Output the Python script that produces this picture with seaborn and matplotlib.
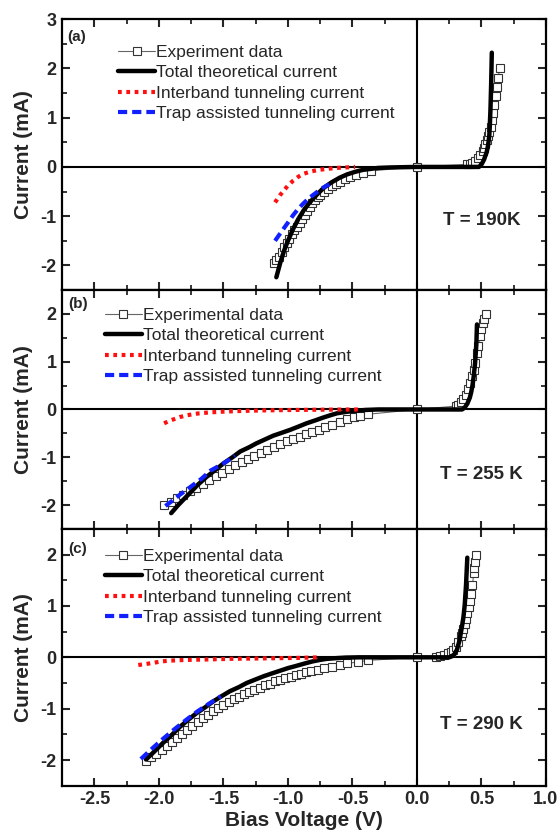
import matplotlib
matplotlib.use("Agg")
import matplotlib.pyplot as plt
import seaborn as sns
from matplotlib.ticker import MultipleLocator

# ---- panel (a), T = 190 K ----
v_exp_a = [-1.11, -1.09, -1.07, -1.05, -1.03, -1.01, -0.99, -0.97, -0.95, -0.93, -0.91, -0.89,
           -0.87, -0.85, -0.83, -0.81, -0.79, -0.77, -0.75, -0.72, -0.69, -0.66, -0.63, -0.60,
           -0.56, -0.52, -0.47, -0.42, -0.36, 0.0, 0.39, 0.41, 0.43, 0.45, 0.47, 0.49, 0.51,
           0.52, 0.53, 0.54, 0.55, 0.56, 0.57, 0.58, 0.59, 0.60, 0.61, 0.62, 0.63, 0.64]
i_exp_a = [-1.95, -1.90, -1.82, -1.72, -1.63, -1.55, -1.46, -1.37, -1.29, -1.21, -1.13, -1.05,
           -0.97, -0.89, -0.81, -0.74, -0.68, -0.62, -0.57, -0.50, -0.45, -0.39, -0.34, -0.30,
           -0.25, -0.20, -0.16, -0.12, -0.08, 0.0, 0.05, 0.06, 0.08, 0.12, 0.18, 0.25, 0.32,
           0.38, 0.46, 0.54, 0.62, 0.70, 0.82, 0.96, 1.10, 1.26, 1.44, 1.62, 1.80, 2.00]
v_tot_a = [-1.09, -1.06, -1.03, -1.00, -0.96, -0.92, -0.88, -0.84, -0.80, -0.76, -0.72, -0.66,
           -0.60, -0.54, -0.48, -0.42, -0.36, -0.30, -0.20, 0.0, 0.30, 0.48, 0.50, 0.52, 0.54,
           0.55, 0.56, 0.565, 0.57, 0.575, 0.58]
i_tot_a = [-2.24, -1.95, -1.70, -1.50, -1.26, -1.06, -0.89, -0.75, -0.63, -0.52, -0.42, -0.31,
           -0.22, -0.15, -0.10, -0.06, -0.04, -0.02, -0.01, 0.0, 0.0, 0.0, 0.05, 0.15, 0.30,
           0.42, 0.62, 0.85, 1.20, 1.70, 2.32]
v_ibt_a = [-1.10, -1.06, -1.03, -1.00, -0.96, -0.92, -0.88, -0.82, -0.76, -0.70, -0.62, -0.55, -0.48]
i_ibt_a = [-0.72, -0.57, -0.47, -0.38, -0.28, -0.20, -0.14, -0.09, -0.06, -0.04, -0.02, -0.01, 0.0]
v_tat_a = [-1.10, -1.06, -1.03, -1.00, -0.96, -0.92, -0.88, -0.84, -0.80, -0.76, -0.72, -0.68]
i_tat_a = [-1.50, -1.35, -1.24, -1.13, -0.98, -0.85, -0.74, -0.64, -0.56, -0.48, -0.41, -0.35]

# ---- panel (b), T = 255 K ----
v_exp_b = [-1.96, -1.91, -1.86, -1.81, -1.76, -1.71, -1.66, -1.61, -1.56, -1.51, -1.46, -1.41,
           -1.36, -1.31, -1.26, -1.21, -1.16, -1.11, -1.06, -1.01, -0.96, -0.91, -0.86, -0.81,
           -0.76, -0.71, -0.66, -0.60, -0.54, -0.49, -0.44, -0.38, 0.0, 0.30, 0.32, 0.34, 0.36,
           0.38, 0.395, 0.41, 0.425, 0.44, 0.45, 0.465, 0.475, 0.49, 0.50, 0.51, 0.52, 0.535]
i_exp_b = [-2.00, -1.93, -1.86, -1.79, -1.71, -1.64, -1.56, -1.48, -1.40, -1.32, -1.24, -1.17,
           -1.10, -1.03, -0.97, -0.91, -0.85, -0.79, -0.73, -0.67, -0.62, -0.57, -0.52, -0.47,
           -0.42, -0.37, -0.32, -0.26, -0.20, -0.16, -0.13, -0.10, 0.0, 0.07, 0.10, 0.16, 0.22,
           0.30, 0.42, 0.55, 0.70, 0.83, 0.98, 1.18, 1.33, 1.54, 1.68, 1.80, 1.90, 2.00]
v_tot_b = [-1.905, -1.85, -1.80, -1.76, -1.70, -1.63, -1.56, -1.50, -1.43, -1.37, -1.30, -1.245,
           -1.18, -1.115, -1.05, -0.986, -0.92, -0.856, -0.79, -0.727, -0.67, -0.62, -0.55,
           -0.48, -0.40, -0.30, 0.0, 0.35, 0.37, 0.39, 0.41, 0.42, 0.43, 0.44, 0.45, 0.46, 0.465]
i_tot_b = [-2.17, -2.00, -1.86, -1.75, -1.58, -1.41, -1.26, -1.13, -1.00, -0.88, -0.79, -0.71,
           -0.63, -0.55, -0.49, -0.43, -0.36, -0.29, -0.23, -0.17, -0.12, -0.08, -0.05,
           -0.03, -0.01, 0.0, 0.0, 0.0, 0.04, 0.12, 0.25, 0.36, 0.50, 0.70, 0.96, 1.35, 1.78]
v_ibt_b = [-1.96, -1.92, -1.88, -1.84, -1.78, -1.70, -1.60, -1.50, -1.35, -1.20, -1.00, -0.80, -0.60, -0.45]
i_ibt_b = [-0.29, -0.24, -0.20, -0.16, -0.12, -0.085, -0.06, -0.045, -0.03, -0.02, -0.012, -0.006, -0.002, 0.0]
v_tat_b = [-1.95, -1.90, -1.84, -1.76, -1.67, -1.60, -1.50, -1.41]
i_tat_b = [-2.02, -1.92, -1.79, -1.63, -1.45, -1.28, -1.13, -0.97]

# ---- panel (c), T = 290 K ----
v_exp_c = [-2.10, -2.06, -2.02, -1.98, -1.94, -1.90, -1.86, -1.82, -1.78, -1.74, -1.70, -1.66,
           -1.62, -1.58, -1.54, -1.50, -1.46, -1.42, -1.38, -1.34, -1.30, -1.26, -1.22, -1.18,
           -1.14, -1.10, -1.06, -1.02, -0.98, -0.94, -0.90, -0.86, -0.82, -0.77, -0.72, -0.66,
           -0.60, -0.54, -0.46, -0.38, 0.0, 0.15, 0.18, 0.21, 0.24, 0.26, 0.28, 0.30, 0.32,
           0.34, 0.35, 0.36, 0.37, 0.38, 0.39, 0.40, 0.41, 0.42, 0.43, 0.44, 0.445, 0.45, 0.455]
i_exp_c = [-2.01, -1.95, -1.88, -1.80, -1.72, -1.64, -1.58, -1.50, -1.42, -1.34, -1.26, -1.19,
           -1.12, -1.05, -0.99, -0.93, -0.87, -0.82, -0.77, -0.72, -0.68, -0.63, -0.59, -0.54,
           -0.51, -0.47, -0.44, -0.41, -0.38, -0.34, -0.32, -0.29, -0.27, -0.24, -0.21, -0.18,
           -0.15, -0.12, -0.09, -0.06, 0.0, 0.01, 0.03, 0.05, 0.08, 0.11, 0.15, 0.21, 0.30,
           0.41, 0.48, 0.56, 0.65, 0.75, 0.86, 0.98, 1.10, 1.24, 1.40, 1.64, 1.74, 1.86, 2.00]
v_tot_c = [-2.10, -2.03, -1.97, -1.90, -1.84, -1.77, -1.71, -1.64, -1.58, -1.51, -1.45, -1.38,
           -1.32, -1.25, -1.19, -1.12, -1.06, -1.00, -0.94, -0.87, -0.81, -0.75, -0.70, -0.62,
           -0.55, -0.45, 0.0, 0.25, 0.27, 0.29, 0.31, 0.33, 0.35, 0.36, 0.37, 0.38, 0.39]
i_tot_c = [-1.99, -1.82, -1.67, -1.51, -1.36, -1.21, -1.09, -0.97, -0.86, -0.75, -0.66, -0.58,
           -0.50, -0.43, -0.37, -0.31, -0.26, -0.21, -0.17, -0.12, -0.08, -0.05, -0.03, -0.015,
           -0.005, 0.0, 0.0, 0.0, 0.02, 0.06, 0.15, 0.33, 0.62, 0.78, 1.02, 1.40, 1.94]
v_ibt_c = [-2.16, -2.10, -2.05, -1.98, -1.92, -1.83, -1.74, -1.60, -1.45, -1.30, -1.10, -0.90, -0.75]
i_ibt_c = [-0.15, -0.13, -0.11, -0.08, -0.065, -0.055, -0.048, -0.04, -0.03, -0.025, -0.018, -0.01, 0.0]
v_tat_c = [-2.14, -2.05, -1.97, -1.88, -1.79, -1.70, -1.61, -1.52]
i_tat_c = [-1.98, -1.77, -1.59, -1.40, -1.22, -1.05, -0.90, -0.76]

panel_tags = ["(a)", "(b)", "(c)"]
temps = ["T = 190K", "T = 255 K", "T = 290 K"]
exp_names = ["Experiment data", "Experimental data", "Experimental data"]
x_ticks = [-2.5, -2.0, -1.5, -1.0, -0.5, 0.0, 0.5, 1.0]
x_ticklabels = ["-2.5", "-2.0", "-1.5", "-1.0", "-0.5", "0.0", "0.5", "1.0"]

sns.set_theme(style="ticks")
plt.rcParams["font.family"] = ["Liberation Sans", "DejaVu Sans"]
plt.rcParams["axes.unicode_minus"] = False


def draw_panel(ax, v_exp, i_exp, v_tot, i_tot, v_ibt, i_ibt, v_tat, i_tat, exp_name):
    # zero axes
    ax.axhline(0, color="black", lw=1.5, zorder=1)
    ax.axvline(0, color="black", lw=1.5, zorder=1)
    sns.lineplot(x=v_exp, y=i_exp, ax=ax, sort=False, estimator=None, color="#666666", lw=0.8,
                 marker="s", markersize=5.5, markerfacecolor="white", markeredgecolor="#333333",
                 markeredgewidth=0.8, label=exp_name, zorder=2)
    sns.lineplot(x=v_tot, y=i_tot, ax=ax, sort=False, estimator=None, color="black", lw=3.2,
                 label="Total theoretical current", zorder=3)
    sns.lineplot(x=v_ibt, y=i_ibt, ax=ax, sort=False, estimator=None, color="#ff1010", lw=3,
                 linestyle=(0, (0.9, 1.1)), label="Interband tunneling current", zorder=4)
    sns.lineplot(x=v_tat, y=i_tat, ax=ax, sort=False, estimator=None, color="#1020ff", lw=3,
                 linestyle=(0, (2.2, 1.2)), label="Trap assisted tunneling current", zorder=4)


fig, axes = plt.subplots(3, 1, figsize=(5.6, 8.35), dpi=100, sharex=True,
                         gridspec_kw={"height_ratios": [271, 239, 257], "hspace": 0})
fig.subplots_adjust(left=0.111, right=0.975, top=0.977, bottom=0.059)

data = [
    (v_exp_a, i_exp_a, v_tot_a, i_tot_a, v_ibt_a, i_ibt_a, v_tat_a, i_tat_a),
    (v_exp_b, i_exp_b, v_tot_b, i_tot_b, v_ibt_b, i_ibt_b, v_tat_b, i_tat_b),
    (v_exp_c, i_exp_c, v_tot_c, i_tot_c, v_ibt_c, i_ibt_c, v_tat_c, i_tat_c),
]
ylims = [(-2.5, 3), (-2.5, 2.5), (-2.5, 2.5)]
yticks = [[-2, -1, 0, 1, 2, 3], [-2, -1, 0, 1, 2], [-2, -1, 0, 1, 2]]
legend_anchor = [(0.116, 0.905), (0.089, 0.925), (0.089, 0.922)]
tag_pos = [(-2.71, 2.63), (-2.70, 2.2), (-2.70, 2.1)]
temp_y = [-1.08, -1.36, -1.3]

for k, ax in enumerate(axes):
    draw_panel(ax, *data[k], exp_names[k])
    ax.set_xlim(-2.75, 1.0)
    ax.set_ylim(*ylims[k])
    ax.set_xticks(x_ticks)
    ax.set_xticklabels(x_ticklabels)
    ax.set_yticks(yticks[k])
    ax.xaxis.set_minor_locator(MultipleLocator(0.25))
    ax.yaxis.set_minor_locator(MultipleLocator(0.5))
    ax.tick_params(which="major", direction="in", top=True, right=True, length=6, width=1.5,
                   labelsize=13, pad=4)
    ax.tick_params(which="minor", direction="in", top=True, right=True, length=3.5, width=1.3)
    for lab in ax.get_yticklabels() + ax.get_xticklabels():
        lab.set_fontweight("bold")
    for sp in ax.spines.values():
        sp.set_linewidth(1.6)
        sp.set_color("black")
    ax.set_ylabel("Current (mA)", fontsize=15, fontweight="bold")
    ax.yaxis.set_label_coords(-0.06, 0.5)
    ax.text(tag_pos[k][0], tag_pos[k][1], panel_tags[k], fontsize=11, fontweight="bold",
            ha="left", va="center")
    ax.text(0.5, temp_y[k], temps[k], fontsize=13.5, fontweight="bold", ha="center", va="center")
    ax.legend(loc="upper left", bbox_to_anchor=legend_anchor[k], frameon=False, fontsize=12.5,
              handlelength=2.1, handletextpad=0.1, labelspacing=0.3, borderpad=0,
              borderaxespad=0)

axes[2].set_xlabel("Bias Voltage (V)", fontsize=15, fontweight="bold", labelpad=2)

fig.savefig("out.png", dpi=100)
